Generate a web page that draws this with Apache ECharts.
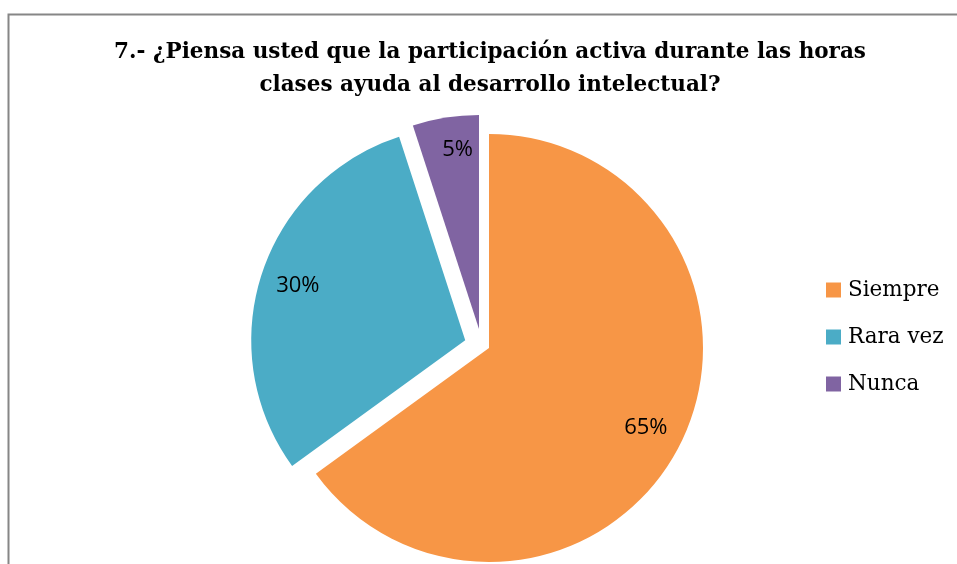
<!DOCTYPE html>
<html>
<head>
<meta charset="utf-8">
<script src="https://cdn.jsdelivr.net/npm/echarts@6/dist/echarts.min.js"></script>
<style>
  html, body { margin: 0; padding: 0; background: #fff; }
  #chart { width: 957px; height: 564px; }
</style>
</head>
<body>
<div id="chart"></div>
<script>
// chart data
const categories = ['Siempre', 'Rara vez', 'Nunca']
const values = [65, 30, 5]
const colors = ['#F79646', '#4BACC6', '#8064A2']
const titleText = '7.- ¿Piensa usted que la participación activa durante las horas\nclases ayuda al desarrollo intelectual?'

// build pie items; only names in "visible" get painted, names in "picked" are pulled out
function pieData (visible, picked) {
  return categories.map((name, i) => ({
    name: name,
    value: values[i],
    selected: picked.indexOf(name) > -1,
    itemStyle: { color: visible.indexOf(name) > -1 ? colors[i] : 'rgba(0,0,0,0)' }
  }))
}

function pieSeries (center, radius, visible, picked, showLabel) {
  return {
    type: 'pie',
    center: center,
    radius: radius,
    startAngle: 90,
    clockwise: true,
    selectedMode: 'multiple',
    selectedOffset: 25,
    silent: true,
    emphasis: { disabled: true, scale: false },
    select: { itemStyle: { borderWidth: 0 } },
    label: {
      show: showLabel,
      position: 'inside',
      formatter: '{d}%',
      color: '#000',
      fontFamily: 'Open Sans',
      fontStyle: 'normal',
      fontSize: 22
    },
    labelLine: { show: false },
    data: pieData(visible, picked)
  }
}

let dom = echarts.init(document.getElementById('chart'), null, { renderer: 'canvas' })
let option = {
  animation: false,
  backgroundColor: '#fff',
  graphic: [{
    type: 'rect',
    shape: { x: 8.5, y: 14.5, width: 1000, height: 1000 },
    style: { fill: 'none', stroke: '#868686', lineWidth: 2 },
    silent: true
  }],
  title: {
    text: titleText,
    left: 490,
    top: 36,
    padding: 0,
    textAlign: 'center',
    textStyle: {
      fontFamily: 'DejaVu Serif',
      fontWeight: 'bold',
      fontSize: 21.5,
      lineHeight: 33,
      color: '#000'
    }
  },
  legend: {
    orient: 'vertical',
    left: 821,
    top: 274,
    itemWidth: 15,
    itemHeight: 15,
    itemGap: 25,
    icon: 'rect',
    selectedMode: false,
    textStyle: { fontFamily: 'DejaVu Serif', fontSize: 21.5, lineHeight: 22, color: '#000', padding: [0, 0, 0, 2] },
    data: categories.map((name, i) => ({ name: name, itemStyle: { color: colors[i], opacity: 1 } }))
  },
  series: [
    pieSeries([489, 348], [0, 214], ['Siempre', 'Rara vez'], ['Rara vez'], false),
    pieSeries([479, 329], [0, 214], ['Nunca'], [], false),
    pieSeries([489, 348], [132, 214], [], ['Rara vez', 'Nunca'], true)
  ]
}
dom.setOption(option, true)
</script>
</body>
</html>
